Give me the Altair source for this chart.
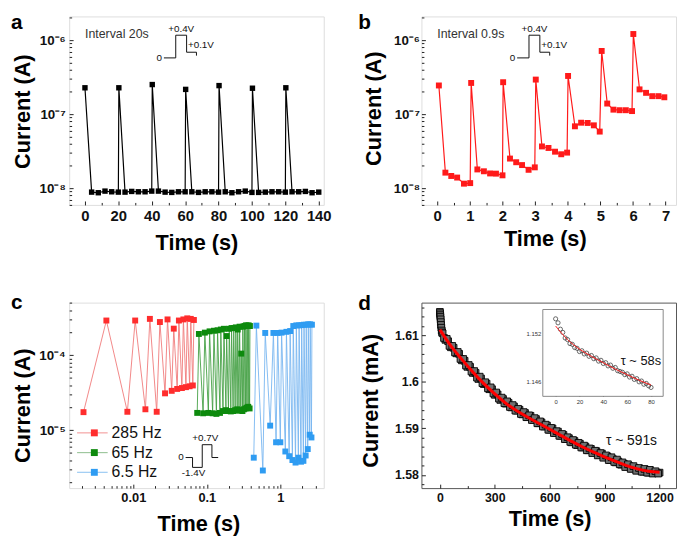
import altair as alt
import pandas as pd

FONT = "Liberation Sans"
W = 258
H1 = 191
H2 = 188

# ---------------- panel a data ----------------
a_peak_t = [0, 20.3, 40.3, 60.3, 80.3, 100.3, 120.3]
a_peak_i = [2.27e-7, 2.27e-7, 2.51e-7, 2.16e-7, 2.43e-7, 2.24e-7, 2.27e-7]
a_low_t = [4, 8, 12, 16, 20, 24, 28, 32, 36, 40, 44, 48, 52, 56, 60, 64, 68, 72, 76, 80,
           84, 88, 92, 96, 100, 104, 108, 112, 116, 120, 124, 128, 132, 136, 140]
a_low_i = [8.84e-9, 8.67e-9, 9.12e-9, 8.93e-9, 8.84e-9, 8.84e-9, 9.03e-9, 8.93e-9, 8.93e-9, 9.12e-9,
           9.12e-9, 8.84e-9, 8.76e-9, 8.93e-9, 8.93e-9, 8.93e-9, 8.76e-9, 8.93e-9, 8.93e-9, 8.84e-9,
           8.93e-9, 8.67e-9, 8.93e-9, 9.12e-9, 8.76e-9, 8.76e-9, 8.84e-9, 8.93e-9, 8.93e-9, 8.84e-9,
           8.93e-9, 8.93e-9, 9.03e-9, 8.67e-9, 8.84e-9]

# ---------------- panel b data ----------------
b_t = [0.05, 0.25, 0.43, 0.61, 0.82, 1.01, 1.04, 1.23, 1.43, 1.62, 1.80, 2.00, 2.02, 2.23,
       2.42, 2.60, 2.80, 2.99, 3.02, 3.21, 3.41, 3.61, 3.80, 3.98, 4.01, 4.22, 4.41, 4.61,
       4.80, 4.98, 5.04, 5.21, 5.40, 5.59, 5.78, 5.97, 6.01, 6.20, 6.40, 6.59, 6.78, 6.96]
b_i = [2.44e-7, 1.62e-8, 1.46e-8, 1.39e-8, 1.15e-8, 1.17e-8,
       2.64e-7, 1.79e-8, 1.69e-8, 1.58e-8, 1.57e-8, 1.49e-8,
       2.70e-7, 2.51e-8, 2.24e-8, 2.05e-8, 1.77e-8, 1.91e-8,
       2.93e-7, 3.66e-8, 3.49e-8, 3.11e-8, 2.87e-8, 3.02e-8,
       3.28e-7, 6.85e-8, 7.66e-8, 7.60e-8, 7.06e-8, 5.81e-8,
       7.14e-7, 1.39e-7, 1.15e-7, 1.13e-7, 1.13e-7, 1.10e-7,
       1.21e-6, 2.16e-7, 1.94e-7, 1.75e-7, 1.75e-7, 1.69e-7]

# ---------------- panel c data ----------------
c_names = ["285 Hz", "65 Hz", "6.5 Hz"]
c_line_cols = ["#f07a7a", "#45a045", "#78b6f0"]
c_pt_cols = ["#ff2d2d", "#0d8a0d", "#2f9cf2"]
c_leg_line_cols = ["#f4a3a3", "#9fc89f", "#9ccbf3"]

red_low_t = [0.0021, 0.0083, 0.0146, 0.0208, 0.0270, 0.0333, 0.0395, 0.0458, 0.0520, 0.0583, 0.0645]
red_low_i = [1.74e-5, 1.76e-5, 1.90e-5, 1.76e-5, 3.10e-5, 3.35e-5, 3.55e-5, 3.65e-5, 3.75e-5, 3.85e-5, 3.95e-5]
red_high_t = [0.0043, 0.0106, 0.0168, 0.0230, 0.0292, 0.0355, 0.0417, 0.0480, 0.0542, 0.0605, 0.0667]
red_high_i = [2.90e-4, 2.90e-4, 3.05e-4, 2.77e-4, 3.00e-4, 2.26e-4, 2.90e-4, 3.00e-4, 3.10e-4, 3.05e-4, 2.95e-4]

grn_low_t = [0.074, 0.089, 0.105, 0.120, 0.135, 0.151, 0.166, 0.182, 0.197, 0.212, 0.228,
             0.243, 0.259, 0.274, 0.289, 0.305, 0.320, 0.336, 0.351, 0.366, 0.382]
grn_low_i = [1.70e-5, 1.68e-5, 1.70e-5, 1.68e-5, 1.65e-5, 1.70e-5, 1.80e-5, 1.85e-5, 1.80e-5, 1.78e-5, 1.80e-5,
             1.85e-5, 1.90e-5, 1.82e-5, 1.85e-5, 1.80e-5, 1.90e-5, 1.95e-5, 2.00e-5, 2.05e-5, 1.95e-5]
grn_high_t = [0.078, 0.094, 0.109, 0.125, 0.140, 0.155, 0.171, 0.186, 0.202, 0.217, 0.232,
              0.248, 0.263, 0.279, 0.294, 0.309, 0.325, 0.340, 0.355, 0.371, 0.386]
grn_high_i = [1.92e-4, 2.00e-4, 2.08e-4, 2.12e-4, 2.15e-4, 2.20e-4, 2.25e-4, 1.80e-4, 2.25e-4, 2.30e-4, 2.30e-4,
              2.35e-4, 2.20e-4, 2.40e-4, 1.05e-4, 2.40e-4, 2.45e-4, 2.50e-4, 2.48e-4, 2.50e-4, 2.45e-4]

blu_low_t = [0.435, 0.578, 0.727, 0.875, 1.00, 1.17, 1.32, 1.46, 1.61, 1.76, 1.91, 2.06, 2.21, 2.36, 2.51, 2.65]
blu_low_i = [4.3e-6, 2.9e-6, 1.15e-5, 6.9e-6, 6.9e-6, 5.2e-6, 4.5e-6, 4.0e-6, 3.7e-6, 4.3e-6, 3.8e-6,
             3.9e-6, 4.6e-6, 5.6e-6, 8.7e-6, 8.0e-6]
blu_high_t = [0.472, 0.623, 0.805, 0.92, 1.04, 1.21, 1.36, 1.50, 1.65, 1.80, 1.95, 2.10, 2.25, 2.40, 2.55, 2.69]
blu_high_i = [2.48e-4, 1.98e-4, 1.98e-4, 1.98e-4, 2.00e-4, 2.05e-4, 2.10e-4, 2.45e-4, 2.50e-4, 2.50e-4,
              2.52e-4, 2.55e-4, 2.55e-4, 2.58e-4, 2.58e-4, 2.55e-4]

# ---------------- panel d data ----------------
d_t = [0, 1, 2, 3, 4, 5, 6, 8, 10, 12,
       15, 30, 45, 60, 75, 90, 105, 120, 135, 150,
       165, 180, 195, 210, 225, 240, 255, 270, 285, 300,
       315, 330, 345, 360, 375, 390, 405, 420, 435, 450,
       465, 480, 495, 510, 525, 540, 555, 570, 585, 600,
       615, 630, 645, 660, 675, 690, 705, 720, 735, 750,
       765, 780, 795, 810, 825, 840, 855, 870, 885, 900,
       915, 930, 945, 960, 975, 990, 1005, 1020, 1035, 1050,
       1065, 1080, 1095, 1110, 1125, 1140, 1155, 1170, 1185, 1200]
d_i = [1.6150, 1.6147, 1.6143, 1.6139, 1.6134, 1.6128, 1.6122, 1.6116, 1.6110, 1.6106,
       1.6104, 1.6090, 1.6087, 1.6074, 1.6073, 1.6061, 1.6060, 1.6046, 1.6045, 1.6032,
       1.6032, 1.6019, 1.6019, 1.6006, 1.6007, 1.5995, 1.5996, 1.5984, 1.5984, 1.5972,
       1.5973, 1.5961, 1.5963, 1.5953, 1.5955, 1.5945, 1.5947, 1.5938, 1.5940, 1.5930,
       1.5933, 1.5924, 1.5927, 1.5918, 1.5920, 1.5911, 1.5913, 1.5904, 1.5906, 1.5897,
       1.5900, 1.5890, 1.5893, 1.5884, 1.5886, 1.5877, 1.5879, 1.5870, 1.5873, 1.5864,
       1.5867, 1.5859, 1.5861, 1.5853, 1.5856, 1.5848, 1.5851, 1.5843, 1.5846, 1.5838,
       1.5840, 1.5832, 1.5834, 1.5827, 1.5829, 1.5822, 1.5824, 1.5818, 1.5819, 1.5814,
       1.5815, 1.5810, 1.5811, 1.5807, 1.5808, 1.5805, 1.5806, 1.5804, 1.5805, 1.5805]
d2_t = [22.5, 37.5, 52.5, 67.5, 82.5, 97.5, 112.5, 127.5, 142.5, 157.5,
        172.5, 187.5, 202.5, 217.5, 232.5, 247.5, 262.5, 277.5, 292.5, 307.5,
        322.5, 337.5, 352.5, 367.5, 382.5, 397.5, 412.5, 427.5, 442.5, 457.5,
        472.5, 487.5, 502.5, 517.5, 532.5, 547.5, 562.5, 577.5, 592.5, 607.5,
        622.5, 637.5, 652.5, 667.5, 682.5, 697.5, 712.5, 727.5, 742.5, 757.5,
        772.5, 787.5, 802.5, 817.5, 832.5, 847.5, 862.5, 877.5, 892.5, 907.5,
        922.5, 937.5, 952.5, 967.5, 982.5, 997.5, 1012.5, 1027.5, 1042.5, 1057.5,
        1072.5, 1087.5, 1102.5, 1117.5, 1132.5, 1147.5, 1162.5, 1177.5, 1192.5]
d2_i = [1.6094, 1.6092, 1.6077, 1.6077, 1.6063, 1.6064, 1.6049, 1.6049, 1.6035, 1.6036,
        1.6022, 1.6023, 1.6009, 1.6011, 1.5997, 1.5999, 1.5986, 1.5988, 1.5975, 1.5977,
        1.5964, 1.5966, 1.5954, 1.5958, 1.5946, 1.5950, 1.5938, 1.5942, 1.5931, 1.5935,
        1.5924, 1.5928, 1.5918, 1.5922, 1.5911, 1.5915, 1.5904, 1.5908, 1.5897, 1.5901,
        1.5890, 1.5894, 1.5884, 1.5888, 1.5877, 1.5881, 1.5871, 1.5875, 1.5865, 1.5869,
        1.5859, 1.5863, 1.5853, 1.5857, 1.5847, 1.5852, 1.5842, 1.5847, 1.5837, 1.5842,
        1.5832, 1.5838, 1.5828, 1.5833, 1.5823, 1.5827, 1.5817, 1.5823, 1.5813, 1.5819,
        1.5809, 1.5815, 1.5807, 1.5813, 1.5805, 1.5811, 1.5803, 1.5808, 1.5803]
d_fit_t = [0, 60, 120, 180, 240, 300, 360, 420, 480, 540, 600, 660, 720, 780, 840, 900,
           960, 1020, 1080, 1140, 1200]
d_fit_i = [1.6112, 1.6077, 1.6048, 1.6021, 1.5996, 1.5974, 1.5954, 1.5938, 1.5924, 1.5911,
           1.5898, 1.5885, 1.5872, 1.5860, 1.5849, 1.5839, 1.5829, 1.5820, 1.5813, 1.5808, 1.5806]

ins_t = [0, 2, 4, 6, 8, 10, 12, 14, 16, 18, 20, 22, 24, 26, 28, 30, 32, 34, 36, 38, 40,
         42, 44, 46, 48, 50, 52, 54, 56, 58, 60, 62, 64, 66, 68, 70, 72, 74, 76, 78, 80]
ins_i = [1.1538, 1.1533, 1.1525, 1.1521, 1.1514, 1.1512, 1.1507, 1.1506, 1.1502, 1.1501, 1.1497,
         1.1498, 1.1494, 1.1495, 1.1491, 1.1492, 1.1488, 1.1489, 1.1485, 1.1486, 1.1482,
         1.1483, 1.1479, 1.1480, 1.1476, 1.1477, 1.1473, 1.1472, 1.1471, 1.1468, 1.1469,
         1.1465, 1.1466, 1.1462, 1.1463, 1.1459, 1.1460, 1.1456, 1.1457, 1.1454, 1.1452]
ins_fit_t = [0, 10, 20, 30, 40, 50, 60, 70, 80]
ins_fit_i = [1.1529, 1.1512, 1.1500, 1.1491, 1.1483, 1.1475, 1.1468, 1.1461, 1.1455]

# ---------------- voltage waveform sketches ----------------
wave_ab_t = [0, 1.2, 1.2, 2.3, 2.3, 3.3, 3.3]
wave_ab_v = [0, 0, 0.4, 0.4, 0.1, 0.1, 0.04]
wave_c_t = [0, 1, 1, 2.4, 2.4, 3.8, 3.8, 4.7]
wave_c_v = [0, 0, -1.4, -1.4, 0.7, 0.7, 0, 0]

# ---------------- tick values ----------------
A_X_MAJ = [0, 20, 40, 60, 80, 100, 120, 140]
A_X_MIN = [10, 30, 50, 70, 90, 110, 130]
B_X_MAJ = [0, 1, 2, 3, 4, 5, 6, 7]
B_X_MIN = [0.5, 1.5, 2.5, 3.5, 4.5, 5.5, 6.5]
AB_Y_MAJ = [1e-8, 1e-7, 1e-6]
AB_Y_MIN = [6e-9, 7e-9, 8e-9, 9e-9, 2e-8, 3e-8, 4e-8, 5e-8, 6e-8, 7e-8, 8e-8, 9e-8,
            2e-7, 3e-7, 4e-7, 5e-7, 6e-7, 7e-7, 8e-7, 9e-7, 2e-6]
C_X_MAJ = [0.01, 0.1, 1]
C_X_MIN = [0.002, 0.003, 0.004, 0.005, 0.006, 0.007, 0.008, 0.009,
           0.02, 0.03, 0.04, 0.05, 0.06, 0.07, 0.08, 0.09,
           0.2, 0.3, 0.4, 0.5, 0.6, 0.7, 0.8, 0.9, 2, 3]
C_Y_MAJ = [1e-5, 1e-4]
C_Y_MIN = [2e-6, 3e-6, 4e-6, 5e-6, 6e-6, 7e-6, 8e-6, 9e-6,
           2e-5, 3e-5, 4e-5, 5e-5, 6e-5, 7e-5, 8e-5, 9e-5, 2e-4, 3e-4, 4e-4, 5e-4]
D_X_MAJ = [0, 300, 600, 900, 1200]
D_X_MIN = [150, 450, 750, 1050]
D_Y_MAJ = [1.58, 1.59, 1.6, 1.61]
D_Y_MIN = [1.578, 1.582, 1.584, 1.586, 1.588, 1.592, 1.594, 1.596, 1.598,
           1.602, 1.604, 1.606, 1.608, 1.612, 1.614, 1.616]
INS_X = [0, 20, 40, 60, 80]
INS_Y = [1.146, 1.152]


# ---------------- helpers ----------------
def lin(domain, rng=None):
    kw = dict(domain=domain, nice=False, zero=False)
    if rng is not None:
        kw["range"] = rng
    return alt.Scale(**kw)


def logsc(domain):
    return alt.Scale(type="log", domain=domain, nice=False)


def x_lab(values, fs, tx, ty, fmt=None):
    kw = dict(orient="bottom", values=values, ticks=False, domain=False, grid=False,
              labelFont=FONT, labelFontSize=fs, labelFontWeight="bold", labelColor="#111",
              labelPadding=4, labelFlush=False, labelOverlap=False,
              title="Time (s)", titleFont=FONT, titleFontSize=22, titleFontWeight="bold",
              titleColor="#000", titleX=tx, titleY=ty, titleAlign="center",
              titleBaseline="alphabetic")
    if fmt:
        kw["format"] = fmt
    return alt.Axis(**kw)


def y_lab(values, fs, pad, tx, ty, title, fmt=None, expr=None):
    kw = dict(orient="left", values=values, ticks=False, domain=False, grid=False,
              labelFont=FONT, labelFontSize=fs, labelFontWeight="bold", labelColor="#111",
              labelPadding=pad, labelFlush=False, labelOverlap=False,
              title=title, titleFont=FONT, titleFontSize=22, titleFontWeight="bold",
              titleColor="#000", titleX=tx, titleY=ty, titleAngle=270, titleAlign="center",
              titleBaseline="alphabetic")
    if fmt:
        kw["format"] = fmt
    if expr:
        kw["labelExpr"] = expr
    return alt.Axis(**kw)


def tick_x(values, h, size):
    return alt.Axis(orient="top", offset=-h, values=values, labels=False, ticks=True,
                    tickSize=size, tickColor="#222", tickWidth=1, domain=False, grid=False,
                    title=None)


def tick_y(values, w, size):
    return alt.Axis(orient="right", offset=-w, values=values, labels=False, ticks=True,
                    tickSize=size, tickColor="#222", tickWidth=1, domain=False, grid=False,
                    title=None)


def letter(s, dx, dy):
    return alt.TitleParams(text=s, anchor="start", frame="group", dx=dx, dy=dy, offset=0,
                           fontSize=21, font=FONT, fontWeight="bold", color="#000",
                           baseline="alphabetic", orient="top")


def wave_layers(t, v, xs, ys, labels):
    wdf = pd.DataFrame({"t": t, "v": v, "k": list(range(len(t)))})
    out = [alt.Chart(wdf).mark_line(color="#111", strokeWidth=1).encode(
        x=alt.X("t:Q", scale=xs, axis=None),
        y=alt.Y("v:Q", scale=ys, axis=None),
        order=alt.Order("k:Q"))]
    for txt, tx, vy, align, dx, dy in labels:
        out.append(alt.Chart(pd.DataFrame({"label": [txt]})).mark_text(
            font=FONT, fontSize=10, color="#111", align=align, baseline="middle", dx=dx, dy=dy
        ).encode(
            x=alt.X(datum=tx, type="quantitative", scale=xs, axis=None),
            y=alt.Y(datum=vy, type="quantitative", scale=ys, axis=None),
            text="label:N"))
    return out


SUP_AB = "'10' + (datum.value < 5e-8 ? '⁻⁸' : (datum.value < 5e-7 ? '⁻⁷' : '⁻⁶'))"
SUP_C = "'10' + (datum.value < 5e-5 ? '⁻⁵' : '⁻⁴')"

AB_LABELS = [("0", 0, 0, "right", -2, 0), ("+0.4V", 1.75, 0.4, "center", 0, -6),
             ("+0.1V", 3.75, 0.1, "center", 0, -7)]


def pulse_panel(df, xdom, color, size, xmaj, xmin, tx, ty, ytx, yty, ypad, interval,
                wave_rng, let, let_dx):
    xs = lin(xdom)
    ys = logsc([5.934e-9, 2.089e-6])
    line = alt.Chart(df).mark_line(color=color, strokeWidth=1.2).encode(
        x=alt.X("t:Q", scale=xs, axis=x_lab(xmaj, 15, tx, ty)),
        y=alt.Y("i:Q", scale=ys, axis=y_lab(AB_Y_MAJ, 13.5, ypad, ytx, yty, "Current (A)",
                                             expr=SUP_AB)))
    pts = alt.Chart(df).mark_square(color=color, size=size, opacity=1).encode(
        x=alt.X("t:Q", scale=xs, axis=tick_x(xmaj, H1, 4)),
        y=alt.Y("i:Q", scale=ys, axis=tick_y(AB_Y_MAJ, W, 4)))
    txt = alt.Chart(pd.DataFrame({"label": [interval]})).mark_text(
        font=FONT, fontSize=12.5, color="#333", align="left", baseline="middle").encode(
        x=alt.X(datum=0, type="quantitative", scale=xs, axis=tick_x(xmin, H1, 2.5)),
        y=alt.Y(datum=1.2e-6, type="quantitative", scale=ys, axis=tick_y(AB_Y_MIN, W, 2.5)),
        text="label:N")
    wav = wave_layers(wave_ab_t, wave_ab_v, lin([0, 3.3], wave_rng), lin([0, 0.4], [42, 19]),
                      AB_LABELS)
    return alt.layer(line, pts, txt, *wav).resolve_scale(
        x="independent", y="independent").properties(
        width=W, height=H1, title=letter(let, let_dx, 34))


# ---------------- panel a ----------------
a_df = pd.DataFrame({"t": a_peak_t + a_low_t, "i": a_peak_i + a_low_i}).sort_values("t")
panel_a = pulse_panel(a_df, [-9.45, 143.0], "#000000", 30, A_X_MAJ, A_X_MIN, 129, 45,
                      -40, 96, 4, "Interval 20s", [96, 129], "a", -59)

# ---------------- panel b ----------------
b_df = pd.DataFrame({"t": b_t, "i": b_i})
panel_b = pulse_panel(b_df, [-0.484, 7.318], "#ff1a1a", 36, B_X_MAJ, B_X_MIN, 125, 40.7,
                      -41, 93, 2, "Interval 0.9s", [97, 130], "b", -64)

# ---------------- panel c ----------------
c_parts = []
for name, lt, li, ht, hi in [(c_names[0], red_low_t, red_low_i, red_high_t, red_high_i),
                             (c_names[1], grn_low_t, grn_low_i, grn_high_t, grn_high_i),
                             (c_names[2], blu_low_t, blu_low_i, blu_high_t, blu_high_i)]:
    c_parts.append(pd.DataFrame({"series": name, "t": lt + ht, "i": li + hi}))
c_df = pd.concat(c_parts).sort_values(["series", "t"])

xc = logsc([1.341e-3, 3.896])
yc = logsc([1.689e-6, 5.027e-4])
c_line = alt.Chart(c_df).mark_line(strokeWidth=0.9).encode(
    x=alt.X("t:Q", scale=xc, axis=x_lab(C_X_MAJ, 13, 131, 42.7, fmt="~g")),
    y=alt.Y("i:Q", scale=yc, axis=y_lab(C_Y_MAJ, 13.5, 4, -40, 104, "Current (A)", expr=SUP_C)),
    color=alt.Color("series:N", scale=alt.Scale(domain=c_names, range=c_line_cols), legend=None),
    order=alt.Order("t:Q"))
c_pts = alt.Chart(c_df).mark_square(size=36, opacity=1).encode(
    x=alt.X("t:Q", scale=xc, axis=tick_x(C_X_MAJ, H2, 4)),
    y=alt.Y("i:Q", scale=yc, axis=tick_y(C_Y_MAJ, W, 4)),
    color=alt.Color("series:N", scale=alt.Scale(domain=c_names, range=c_pt_cols), legend=None))
c_minor = alt.Chart(c_df).mark_point(opacity=0).encode(
    x=alt.X("t:Q", scale=xc, axis=tick_x(C_X_MIN, H2, 2.5)),
    y=alt.Y("i:Q", scale=yc, axis=tick_y(C_Y_MIN, W, 2.5)))
leg_df = pd.DataFrame({"series": c_names})
leg_y = alt.Scale(type="point", domain=c_names, range=[132, 172], padding=0)
leg_rule = alt.Chart(leg_df).mark_rule(strokeWidth=1.2).encode(
    x=alt.value(8), x2=alt.value(39),
    y=alt.Y("series:N", scale=leg_y, axis=None),
    color=alt.Color("series:N", scale=alt.Scale(domain=c_names, range=c_leg_line_cols), legend=None))
leg_sq = alt.Chart(leg_df).mark_square(size=49, opacity=1).encode(
    x=alt.value(25.5),
    y=alt.Y("series:N", scale=leg_y, axis=None),
    color=alt.Color("series:N", scale=alt.Scale(domain=c_names, range=c_pt_cols), legend=None))
leg_txt = alt.Chart(leg_df).mark_text(font=FONT, fontSize=16, color="#111", align="left",
                                      baseline="middle").encode(
    x=alt.value(43),
    y=alt.Y("series:N", scale=leg_y, axis=None),
    text="series:N")
C_LABELS = [("0", 0, 0, "right", -2, 0), ("+0.7V", 2.85, 0.7, "center", 0, -7),
            ("-1.4V", 1.14, -1.4, "center", 0, 6)]
c_wave = wave_layers(wave_c_t, wave_c_v, lin([0, 4.7], [118, 151]),
                     lin([-1.4, 0, 0.7], [167, 157, 144]), C_LABELS)
panel_c = alt.layer(c_line, c_pts, c_minor, leg_rule, leg_sq, leg_txt, *c_wave).resolve_scale(
    x="independent", y="independent", color="independent").properties(
    width=W, height=H2, title=letter("c", -59, 28))

# ---------------- panel d ----------------
xd = lin([-100.8, 1290])
yd = lin([1.57718, 1.61699])
d_df = pd.concat([pd.DataFrame({"t": d_t, "i": d_i}), pd.DataFrame({"t": d2_t, "i": d2_i})])
d_fit = pd.DataFrame({"t": d_fit_t, "i": d_fit_i})
d_band = alt.Chart(d_df).mark_square(size=46, fill="#707070", stroke="#000", strokeWidth=0.9,
                                     opacity=1).encode(
    x=alt.X("t:Q", scale=xd, axis=x_lab(D_X_MAJ, 12.5, 130, 37.7, fmt="d")),
    y=alt.Y("i:Q", scale=yd, axis=y_lab(D_Y_MAJ, 12.5, 3, -45, 99, "Current (mA)", fmt="~g")))
d_line = alt.Chart(d_fit).mark_line(color="#ff0000", strokeWidth=3, interpolate="monotone").encode(
    x=alt.X("t:Q", scale=xd, axis=tick_x(D_X_MAJ, H2, 4)),
    y=alt.Y("i:Q", scale=yd, axis=tick_y(D_Y_MAJ, W, 4)))
d_tau = alt.Chart(pd.DataFrame({"label": ["τ ~ 591s"]})).mark_text(
    font=FONT, fontSize=14, color="#111", align="left", baseline="middle").encode(
    x=alt.X(datum=907, type="quantitative", scale=xd, axis=tick_x(D_X_MIN, H2, 2.5)),
    y=alt.Y(datum=1.5872, type="quantitative", scale=yd, axis=tick_y(D_Y_MIN, W, 2.5)),
    text="label:N")

ix = lin([-10.76, 90.2], [123, 245])
iy = lin([1.14408, 1.15497], [95, 7])
ins_frame = alt.Chart(pd.DataFrame({"k": [0]})).mark_rect(fill="white", stroke="#888",
                                                          strokeWidth=1).encode(
    x=alt.X(datum=-10.76, type="quantitative", scale=ix, axis=None),
    x2=alt.X2(datum=90.2),
    y=alt.Y(datum=1.14408, type="quantitative", scale=iy, axis=None),
    y2=alt.Y2(datum=1.15497))
ins_df = pd.DataFrame({"t": ins_t, "i": ins_i})
ins_fit = pd.DataFrame({"t": ins_fit_t, "i": ins_fit_i})
ins_pts = alt.Chart(ins_df).mark_point(shape="circle", filled=False, size=18, color="#444",
                                       strokeWidth=0.8, opacity=1).encode(
    x=alt.X("t:Q", scale=ix, axis=alt.Axis(orient="bottom", offset=-(H2 - 95), values=INS_X,
                                           ticks=False, domain=False, grid=False, labelFont=FONT,
                                           labelFontSize=6, labelColor="#333", labelPadding=2,
                                           labelFlush=False, title=None)),
    y=alt.Y("i:Q", scale=iy, axis=alt.Axis(orient="left", offset=-123, values=INS_Y,
                                           ticks=False, domain=False, grid=False, labelFont=FONT,
                                           labelFontSize=6, labelColor="#333", labelPadding=2,
                                           format="~g", title=None)))
ins_line = alt.Chart(ins_fit).mark_line(color="#ff2020", strokeWidth=1, interpolate="monotone").encode(
    x=alt.X("t:Q", scale=ix, axis=tick_x(INS_X, 95, 2)),
    y=alt.Y("i:Q", scale=iy, axis=tick_y(INS_Y, W - 123, 2)))
ins_tau = alt.Chart(pd.DataFrame({"label": ["τ ~ 58s"]})).mark_text(
    font=FONT, fontSize=13, color="#111", align="left", baseline="middle").encode(
    x=alt.X(datum=54.6, type="quantitative", scale=ix, axis=None),
    y=alt.Y(datum=1.1485, type="quantitative", scale=iy, axis=None),
    text="label:N")

panel_d = alt.layer(d_band, d_line, d_tau, ins_frame, ins_pts, ins_line, ins_tau).resolve_scale(
    x="independent", y="independent").properties(
    width=W, height=H2, title=letter("d", -64, 28), view=alt.ViewBackground(stroke="#555"))

chart = alt.concat(panel_a, panel_b, panel_c, panel_d, columns=2,
                   spacing={"row": 99, "column": 99}, bounds="flush").properties(
    padding={"left": 2, "top": 0, "right": 0, "bottom": 0}
).configure_view(stroke="#8a8a8a", strokeWidth=1).configure(font=FONT)

chart.save("out.html", embed_options={"renderer": "svg", "actions": False})
